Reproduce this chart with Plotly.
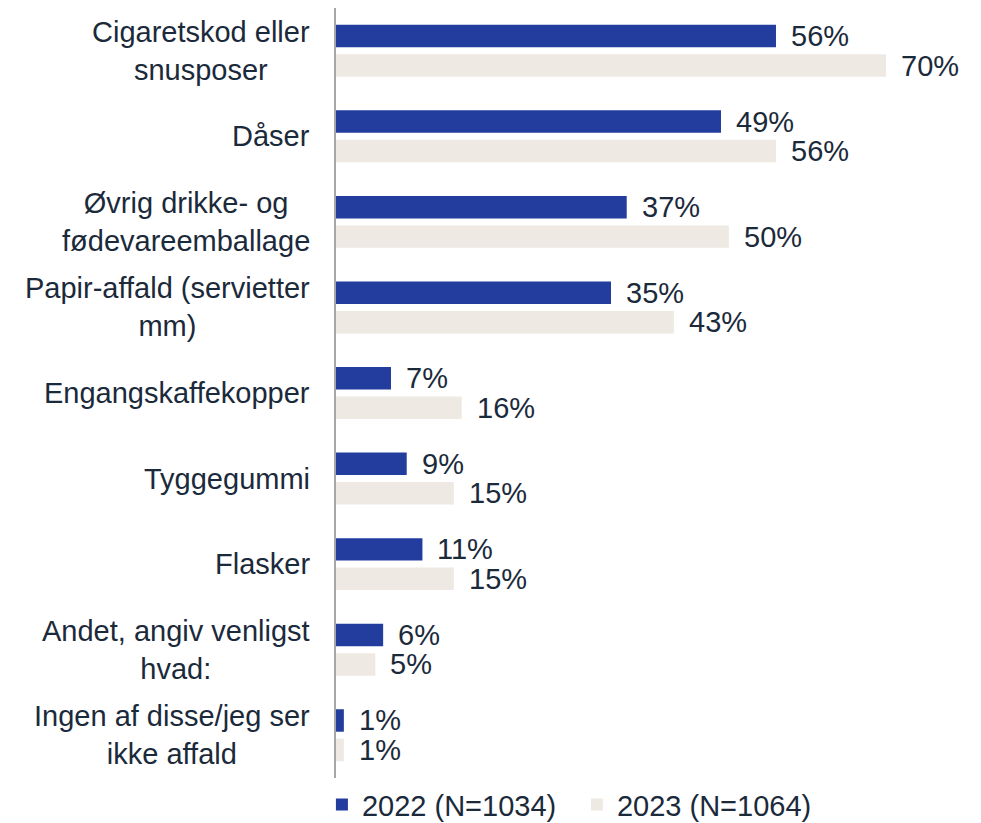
import plotly.graph_objects as go

categories = [
    "Cigaretskod eller<br>snusposer",
    "Dåser",
    "Øvrig drikke- og<br>fødevareemballage",
    "Papir-affald (servietter<br>mm)",
    "Engangskaffekopper",
    "Tyggegummi",
    "Flasker",
    "Andet, angiv venligst<br>hvad:",
    "Ingen af disse/jeg ser<br>ikke affald",
]
values_2022 = [56, 49, 37, 35, 7, 9, 11, 6, 1]
values_2023 = [70, 56, 50, 43, 16, 15, 15, 5, 1]
series_names = ["2022 (N=1034)", "2023 (N=1064)"]

C_2022 = "#233D9F"
C_2023 = "#EEEAE3"
TXT = "#1B2A3B"
FONT = "Liberation Sans, Arial, sans-serif"
FS = 29

idx = list(range(len(categories)))

fig = go.Figure()
fig.add_trace(go.Bar(y=idx, x=values_2022, orientation="h", name=series_names[0],
                     marker=dict(color=C_2022, line=dict(width=0))))
fig.add_trace(go.Bar(y=idx, x=values_2023, orientation="h", name=series_names[1],
                     marker=dict(color=C_2023, line=dict(width=0))))

annotations = []
OFF = 0.1723  # offset of each bar from category center (in category units)
for i, (a, b) in enumerate(zip(values_2022, values_2023)):
    annotations.append(dict(x=a, y=i - OFF, xref="x", yref="y", text=f"{a}%",
                            showarrow=False, xanchor="left", yanchor="middle", xshift=13,
                            font=dict(size=FS, color=TXT, family=FONT)))
    annotations.append(dict(x=b, y=i + OFF, xref="x", yref="y", text=f"{b}%",
                            showarrow=False, xanchor="left", yanchor="middle", xshift=13,
                            font=dict(size=FS, color=TXT, family=FONT)))
for i, c in enumerate(categories):
    annotations.append(dict(x=0, y=i, xref="paper", yref="y", text=c,
                            showarrow=False, xanchor="right", yanchor="middle", xshift=-24,
                            align="center",
                            font=dict(size=FS, color=TXT, family=FONT)))

fig.update_layout(
    width=981, height=823,
    margin=dict(l=328, r=23, t=0, b=53, autoexpand=False),
    paper_bgcolor="white", plot_bgcolor="white",
    barmode="group", bargap=0.311, bargroupgap=0.237,
    font=dict(family=FONT, size=FS, color=TXT),
    xaxis=dict(range=[0, 630 / 7.857], visible=False, showgrid=False, zeroline=False),
    yaxis=dict(range=[len(categories) - 0.5, -0.5], showticklabels=False, showgrid=False,
               zeroline=False, showline=True, linecolor="#A6A6A6", linewidth=1.5,
               tickvals=idx, ticks=""),
    showlegend=True,
    legend=dict(orientation="h", xref="container", yref="container", x=0.320, y=0.032,
                xanchor="left", yanchor="middle", font=dict(size=FS, color=TXT, family=FONT),
                traceorder="normal", entrywidth=210, bgcolor="rgba(0,0,0,0)"),
    annotations=annotations,
)

fig.write_html("out.html")
